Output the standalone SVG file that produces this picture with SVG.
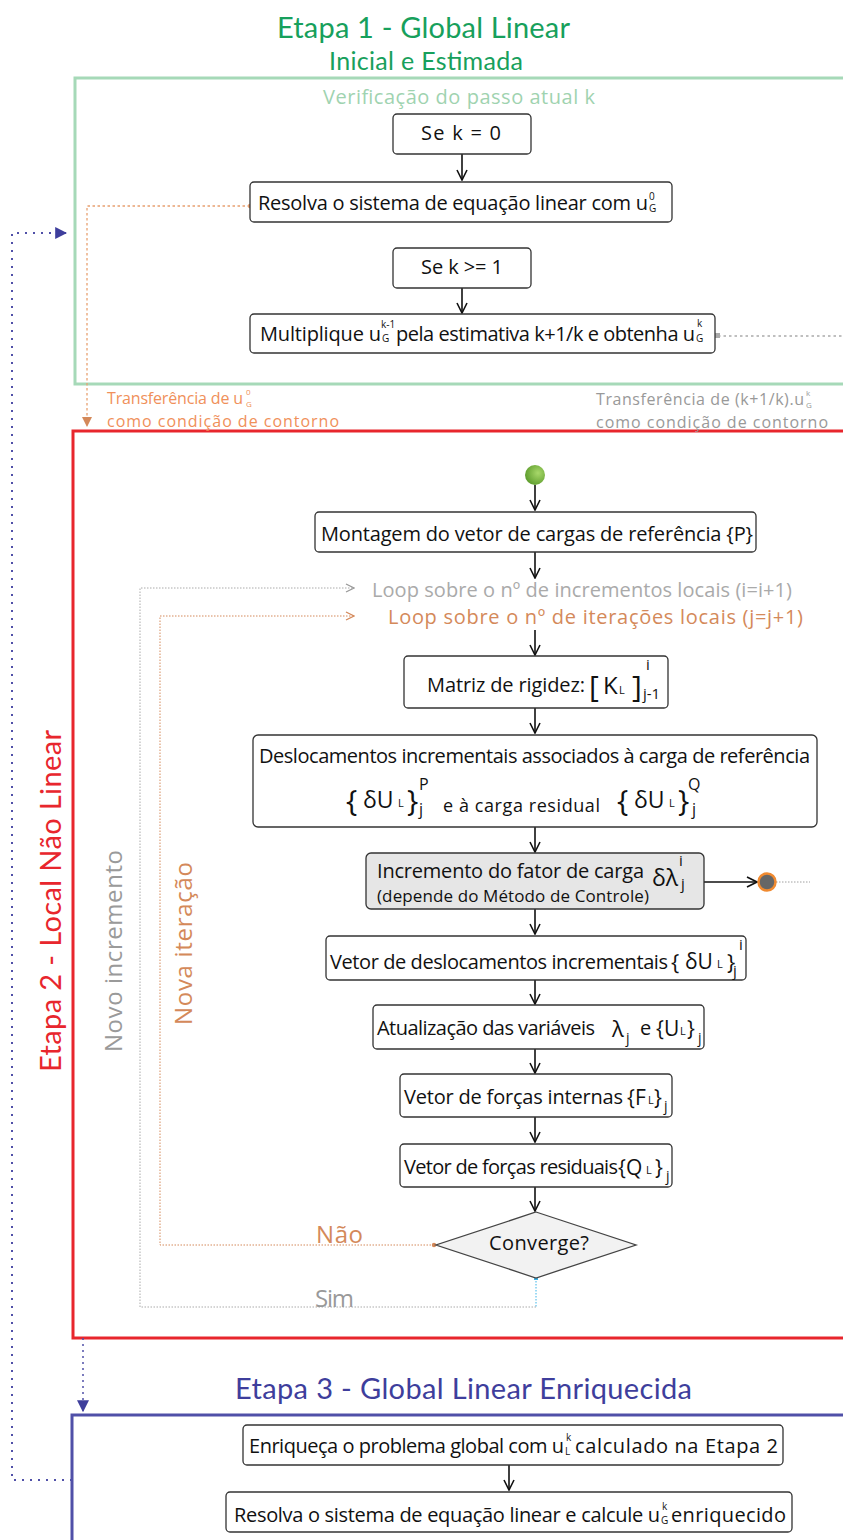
<svg xmlns="http://www.w3.org/2000/svg" width="843" height="1540" viewBox="0 0 843 1540">
<defs>
<style>
text{font-family:"Open Sans",Lato,"Liberation Sans",sans-serif;}
.h{font-family:Lato,"Open Sans",sans-serif;}
.t{font-size:20px;fill:#111;}
.s{font-size:10px;fill:#111;}
.m{fill:#111;}
.box{fill:#fff;stroke:#333;stroke-width:1.3;}
.ar{fill:none;stroke:#111;stroke-width:1.6;marker-end:url(#ah);}
</style>
<marker id="ah" viewBox="0 0 12 12" refX="11" refY="6" markerWidth="12" markerHeight="12" markerUnits="userSpaceOnUse" orient="auto"><path d="M1,1 L11,6 L1,11" fill="none" stroke="#111" stroke-width="1.6"/></marker>
<marker id="ahOr" viewBox="0 0 10 10" refX="9" refY="5" markerWidth="10" markerHeight="10" markerUnits="userSpaceOnUse" orient="auto"><path d="M0,0 L10,5 L0,10 Z" fill="#d4895a"/></marker>
<marker id="ahBl" viewBox="0 0 10 10" refX="9" refY="5" markerWidth="12" markerHeight="12" markerUnits="userSpaceOnUse" orient="auto"><path d="M0,0 L10,5 L0,10 Z" fill="#3e3e9c"/></marker>
<marker id="ahGy" viewBox="0 0 10 10" refX="9" refY="5" markerWidth="10" markerHeight="10" markerUnits="userSpaceOnUse" orient="auto"><path d="M1,1 L9,5 L1,9" fill="none" stroke="#999" stroke-width="1.3"/></marker>
<marker id="ahOo" viewBox="0 0 10 10" refX="9" refY="5" markerWidth="10" markerHeight="10" markerUnits="userSpaceOnUse" orient="auto"><path d="M1,1 L9,5 L1,9" fill="none" stroke="#d4895a" stroke-width="1.3"/></marker>
<radialGradient id="gstart" cx="0.65" cy="0.4" r="0.7"><stop offset="0" stop-color="#a8d86a"/><stop offset="1" stop-color="#5a9a2a"/></radialGradient>
</defs>

<!-- stage frames -->
<g id="etapa1">
<text class="h" x="277" y="38" font-size="29" fill="#17a05c" textLength="293">Etapa 1 - Global Linear</text>
<text class="h" x="329" y="70" font-size="25" fill="#17a05c" textLength="194">Inicial e Estimada</text>
<rect x="75" y="78" width="800" height="306" fill="none" stroke="#a6d9b8" stroke-width="3"/>
<text x="323" y="104" font-size="20" fill="#9fd3b0" textLength="272">Verificação do passo atual k</text>
</g>
<g id="etapa2">
<rect x="73" y="431" width="800" height="907" fill="none" stroke="#e8262d" stroke-width="3"/>
<text class="h" transform="translate(61,1072) rotate(-90)" font-size="29" fill="#e8262d" textLength="342">Etapa 2 - Local Não Linear</text>
<text transform="translate(122,1052) rotate(-90)" font-size="24" fill="#9a9a9a" textLength="202">Novo incremento</text>
<text transform="translate(192,1025) rotate(-90)" font-size="24" fill="#d4895a" textLength="163">Nova iteração</text>
</g>
<g id="etapa3">
<text class="h" x="235" y="1399" font-size="29" fill="#3e3e9c" textLength="457">Etapa 3 - Global Linear Enriquecida</text>
<rect x="72" y="1415" width="800" height="200" fill="none" stroke="#5050a8" stroke-width="3"/>
</g>

<!-- connectors -->
<g id="connectors">
<path class="ar" d="M462,154 V180"/>
<path class="ar" d="M462,288 V313"/>
<path class="ar" d="M535,485 V510"/>
<path class="ar" d="M535,552 V578"/>
<path class="ar" d="M535,630 V655"/>
<path class="ar" d="M535,708 V733"/>
<path class="ar" d="M535,827 V852"/>
<path class="ar" d="M535,909 V934"/>
<path class="ar" d="M535,980 V1004"/>
<path class="ar" d="M535,1049 V1073"/>
<path class="ar" d="M535,1117 V1142"/>
<path class="ar" d="M535,1187 V1211"/>
<path class="ar" d="M704,882 H757"/>
<path d="M776,882 H810" fill="none" stroke="#888" stroke-width="0.8" stroke-dasharray="1.5,1.5"/>
<path class="ar" d="M509,1465 V1490"/>
<path d="M250,206 H87 V426" fill="none" stroke="#e8a070" stroke-width="1.3" stroke-dasharray="2.5,2.5" marker-end="url(#ahOr)"/>
<circle cx="250" cy="206" r="2.2" fill="#e8a070"/>
<path d="M718,336 H843" fill="none" stroke="#aaa" stroke-width="1.3" stroke-dasharray="2.5,3"/>
<rect x="715" y="333" width="5" height="5" fill="#aaa"/>
<path d="M536,1278 V1307" fill="none" stroke="#3bb4e8" stroke-width="1" stroke-dasharray="1.5,1.5"/>
<rect x="534" y="1276" width="4" height="4" fill="#3bb4e8"/>
<path d="M536,1307 H140 V588 H354" fill="none" stroke="#aaa" stroke-width="1" stroke-dasharray="1.5,1.5" marker-end="url(#ahGy)"/>
<path d="M434,1245 H160 V616 H354" fill="none" stroke="#d4895a" stroke-width="1" stroke-dasharray="1.5,1.5" marker-end="url(#ahOo)"/>
<circle cx="434" cy="1245" r="2.2" fill="#d4895a"/>
<path d="M83,1338 V1411" fill="none" stroke="#5050a8" stroke-width="1.5" stroke-dasharray="2,4" marker-end="url(#ahBl)"/>
<path d="M72,1480 H12 V233 H66" fill="none" stroke="#5050a8" stroke-width="2" stroke-dasharray="2,6" marker-end="url(#ahBl)"/>
</g>

<!-- labels on connectors -->
<g id="labels">
<text x="107" y="404" font-size="16" fill="#f0905a" textLength="136">Transferência de u</text>
<text x="246" y="395" font-size="8" fill="#f0905a">0</text>
<text x="246" y="407" font-size="8" fill="#f0905a">G</text>
<text x="107" y="427" font-size="16" fill="#f0905a" textLength="232">como condição de contorno</text>
<text x="596" y="405" font-size="16" fill="#999" textLength="208">Transferência de (k+1/k).u</text>
<text x="806" y="396" font-size="8" fill="#999">k</text>
<text x="806" y="408" font-size="8" fill="#999">G</text>
<text x="596" y="428" font-size="16" fill="#999" textLength="232">como condição de contorno</text>
<text x="372" y="597" font-size="20" fill="#aaa" textLength="420">Loop sobre o nº de incrementos locais (i=i+1)</text>
<text x="388" y="624" font-size="20" fill="#d4895a" textLength="415">Loop sobre o nº de iterações locais (j=j+1)</text>
<text x="316" y="1243" font-size="24" fill="#d4895a" textLength="47">Não</text>
<text x="315" y="1307" font-size="24" fill="#999" textLength="39">Sim</text>
</g>

<!-- nodes -->
<g id="n-sek0">
<rect class="box" x="393" y="114" width="138" height="40" rx="4"/>
<text class="t" x="421" y="140" font-size="21" textLength="80">Se k = 0</text>
</g>
<g id="n-resolva">
<rect class="box" x="250" y="182" width="422" height="40" rx="4"/>
<text class="t" x="258" y="210" textLength="390">Resolva o sistema de equação linear com u</text>
<text class="s" x="649" y="200">0</text>
<text class="s" x="649" y="212">G</text>
</g>
<g id="n-sek1">
<rect class="box" x="393" y="248" width="138" height="40" rx="4"/>
<text class="t" x="421" y="274" textLength="82">Se k &gt;= 1</text>
</g>
<g id="n-multiplique">
<rect class="box" x="250" y="314" width="465" height="39" rx="4"/>
<text class="t" x="260" y="341" textLength="121">Multiplique u</text>
<text class="s" x="381" y="328">k-1</text>
<text class="s" x="382" y="342">G</text>
<text class="t" x="396" y="341" textLength="299">pela estimativa k+1/k e obtenha u</text>
<text class="s" x="697" y="327">k</text>
<text class="s" x="696" y="342">G</text>
</g>

<g id="n-start">
<circle cx="535" cy="475" r="10" fill="url(#gstart)"/>
</g>
<g id="n-montagem">
<rect class="box" x="315" y="512" width="441" height="40" rx="4"/>
<text class="t" x="321" y="541" textLength="432">Montagem do vetor de cargas de referência {P}</text>
</g>
<g id="n-matriz">
<rect class="box" x="404" y="656" width="264" height="52" rx="4"/>
<text class="t" x="427" y="692" textLength="158">Matriz de rigidez:</text>
<text class="m" x="589" y="697" font-size="30">[</text>
<text class="m" x="603" y="694" font-size="24">K</text>
<text class="m" x="619" y="694" font-size="11">L</text>
<text class="m" x="632" y="697" font-size="30">]</text>
<text class="m" x="646" y="670" font-size="15">i</text>
<text class="m" x="643" y="699" font-size="15">j-1</text>
</g>
<g id="n-desloc">
<rect class="box" x="253" y="735" width="564" height="92" rx="5"/>
<text class="t" x="259" y="763" textLength="551">Deslocamentos incrementais associados à carga de referência</text>
<text class="m" x="346" y="811" font-size="30">{</text>
<text class="m" x="363" y="808" font-size="23">δU</text>
<text class="m" x="398" y="807" font-size="11">L</text>
<text class="m" x="407" y="811" font-size="30">}</text>
<text class="m" x="419" y="790" font-size="16">P</text>
<text class="m" x="419" y="815" font-size="16">j</text>
<text class="m" x="443" y="812" font-size="18" textLength="157">e à carga residual</text>
<text class="m" x="617" y="811" font-size="30">{</text>
<text class="m" x="634" y="808" font-size="23">δU</text>
<text class="m" x="669" y="807" font-size="11">L</text>
<text class="m" x="678" y="811" font-size="30">}</text>
<text class="m" x="688" y="790" font-size="16">Q</text>
<text class="m" x="692" y="815" font-size="16">j</text>
</g>
<g id="n-incremento">
<rect x="366" y="853" width="338" height="56" rx="5" fill="#e6e6e6" stroke="#333" stroke-width="1.3"/>
<text class="t" x="377" y="878" font-size="19" textLength="267">Incremento do fator de carga</text>
<text class="m" x="652" y="886" font-size="23">δλ</text>
<text class="m" x="679" y="866" font-size="15">i</text>
<text class="m" x="681" y="889" font-size="15">j</text>
<text class="m" x="377" y="902" font-size="17" textLength="272">(depende do Método de Controle)</text>
</g>
<g id="n-end">
<circle cx="767" cy="882" r="8.5" fill="#666" stroke="#f08a30" stroke-width="2.5"/>
</g>
<g id="n-vetordesloc">
<rect class="box" x="326" y="936" width="420" height="44" rx="4"/>
<text class="t" x="330" y="969" textLength="338">Vetor de deslocamentos incrementais</text>
<text class="m" x="671" y="970" font-size="22">{</text>
<text class="m" x="685" y="969" font-size="21">δU</text>
<text class="m" x="717" y="968" font-size="11">L</text>
<text class="m" x="727" y="970" font-size="22">}</text>
<text class="m" x="739" y="950" font-size="15">i</text>
<text class="m" x="733" y="976" font-size="15">j</text>
</g>
<g id="n-atualiza">
<rect class="box" x="373" y="1005" width="331" height="44" rx="4"/>
<text class="t" x="377" y="1035" textLength="218">Atualização das variáveis</text>
<text class="m" x="612" y="1037" font-size="22">λ</text>
<text class="m" x="626" y="1043" font-size="14">j</text>
<text class="m" x="640" y="1035" font-size="20">e</text>
<text class="m" x="656" y="1036" font-size="21">{U</text>
<text class="m" x="680" y="1035" font-size="11">L</text>
<text class="m" x="687" y="1036" font-size="21">}</text>
<text class="m" x="698" y="1043" font-size="14">j</text>
</g>
<g id="n-forcasint">
<rect class="box" x="400" y="1074" width="272" height="43" rx="4"/>
<text class="t" x="404" y="1104" textLength="219">Vetor de forças internas</text>
<text class="m" x="627" y="1105" font-size="21">{F</text>
<text class="m" x="648" y="1104" font-size="11">L</text>
<text class="m" x="654" y="1105" font-size="21">}</text>
<text class="m" x="664" y="1111" font-size="14">j</text>
</g>
<g id="n-forcasres">
<rect class="box" x="400" y="1144" width="272" height="43" rx="4"/>
<text class="t" x="404" y="1174" textLength="214">Vetor de forças residuais</text>
<text class="m" x="618" y="1175" font-size="21">{Q</text>
<text class="m" x="646" y="1174" font-size="11">L</text>
<text class="m" x="655" y="1175" font-size="21">}</text>
<text class="m" x="666" y="1181" font-size="14">j</text>
</g>
<g id="n-converge">
<path d="M536,1212 L636,1245 L536,1278 L436,1245 Z" fill="#f2f2f2" stroke="#444" stroke-width="1.3"/>
<text class="t" x="489" y="1250" textLength="100">Converge?</text>
</g>

<g id="n-enriqueca">
<rect class="box" x="243" y="1425" width="540" height="40" rx="4"/>
<text class="t" x="249" y="1453" textLength="315">Enriqueça o problema global com u</text>
<text class="s" x="566" y="1441">k</text>
<text class="s" x="565" y="1455">L</text>
<text class="t" x="575" y="1453" textLength="203">calculado na Etapa 2</text>
</g>
<g id="n-resolva2">
<rect class="box" x="226" y="1492" width="566" height="40" rx="4"/>
<text class="t" x="234" y="1522" textLength="426">Resolva o sistema de equação linear e calcule u</text>
<text class="s" x="662" y="1510">k</text>
<text class="s" x="661" y="1524">G</text>
<text class="t" x="671" y="1522" textLength="115">enriquecido</text>
</g>
</svg>
